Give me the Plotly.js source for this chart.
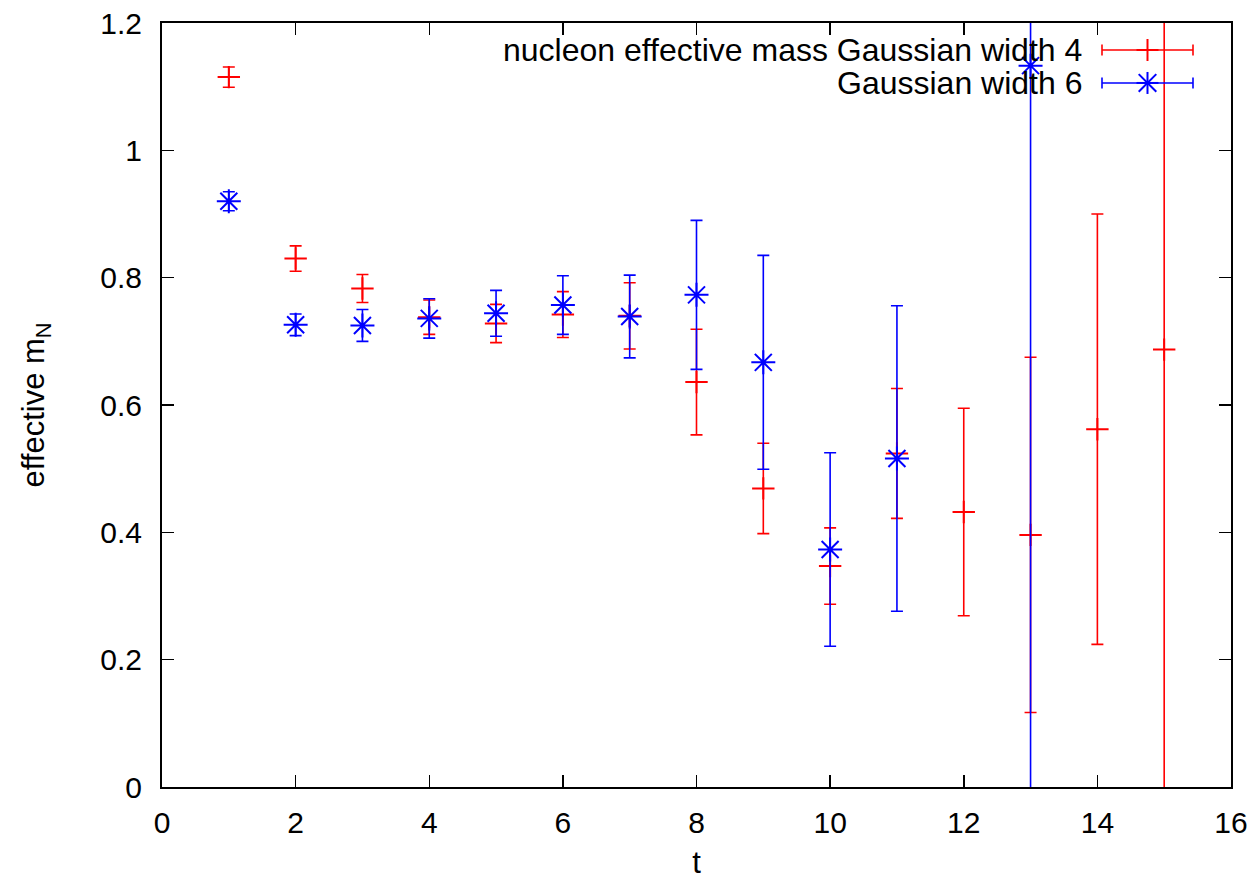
<!DOCTYPE html>
<html>
<head>
<meta charset="utf-8">
<script src="https://cdn.plot.ly/plotly-3.0.1.min.js"></script>
<style>html,body{margin:0;padding:0;background:#fff;}#chart{width:1258px;height:880px;}</style>
</head>
<body>
<div id="chart"></div>
<script>
// Data
const t4   = [1, 2, 3, 4, 5, 6, 7, 8, 9, 10, 11, 12, 13, 14, 15];
const m4   = [1.115, 0.830, 0.783, 0.738, 0.728, 0.742, 0.740, 0.636, 0.469, 0.347, 0.524, 0.432, 0.396, 0.562, 0.687];
const err4 = [0.016, 0.020, 0.022, 0.027, 0.030, 0.036, 0.052, 0.083, 0.071, 0.060, 0.102, 0.163, 0.279, 0.338, 0.75];

const t6   = [1, 2, 3, 4, 5, 6, 7, 8, 9, 10, 11, 13];
const m6   = [0.920, 0.726, 0.725, 0.736, 0.744, 0.757, 0.739, 0.773, 0.667, 0.373, 0.516, 1.133];
const err6 = [0.015, 0.017, 0.025, 0.031, 0.036, 0.046, 0.065, 0.117, 0.168, 0.152, 0.240, 1.2];

const label4 = "nucleon effective mass Gaussian width 4";
const label6 = "Gaussian width 6";
const xTicks = [0, 2, 4, 6, 8, 10, 12, 14, 16];
const yTicks = [0, 0.2, 0.4, 0.6, 0.8, 1, 1.2];

const RED = "#ff0000", BLUE = "#0000ff";
const FONT = "Liberation Sans, Arial, Helvetica, sans-serif";

const traces = [
  {
    x: t4, y: m4, type: "scatter", mode: "markers", name: label4, showlegend: false,
    marker: {symbol: "cross-thin-open", size: 16, color: RED, line: {color: RED, width: 2}},
    error_y: {type: "data", array: err4, visible: true, color: RED, thickness: 1.6, width: 6}
  },
  {
    x: t6, y: m6, type: "scatter", mode: "markers", name: label6, showlegend: false,
    marker: {symbol: "asterisk-open", size: 20, color: BLUE, line: {color: BLUE, width: 2}},
    error_y: {type: "data", array: err6, visible: true, color: BLUE, thickness: 1.6, width: 6}
  }
];

// legend drawn gnuplot-style: text then sample
const L = 162, R = 1231, T = 23, B = 787.5;
const px = v => (v - L) / (R - L);
const py = v => (B - v) / (B - T);
const rowY = [50, 83];
const sx0 = 1102, sx1 = 1193, sc = 1147.5, cap = 5.5, ms = 11;
const shapes = [];
const colors = [RED, BLUE];
rowY.forEach((ry, i) => {
  const c = colors[i];
  const ln = {color: c, width: 1.6};
  shapes.push({type: "line", xref: "paper", yref: "paper", x0: px(sx0), x1: px(sx1), y0: py(ry), y1: py(ry), line: ln});
  shapes.push({type: "line", xref: "paper", yref: "paper", x0: px(sx0), x1: px(sx0), y0: py(ry - cap), y1: py(ry + cap), line: ln});
  shapes.push({type: "line", xref: "paper", yref: "paper", x0: px(sx1), x1: px(sx1), y0: py(ry - cap), y1: py(ry + cap), line: ln});
  const ml = {color: c, width: 2};
  shapes.push({type: "line", xref: "paper", yref: "paper", x0: px(sc - ms), x1: px(sc + ms), y0: py(ry), y1: py(ry), line: ml});
  shapes.push({type: "line", xref: "paper", yref: "paper", x0: px(sc), x1: px(sc), y0: py(ry - ms), y1: py(ry + ms), line: ml});
  if (i === 1) {
    const d = ms * 0.8;
    shapes.push({type: "line", xref: "paper", yref: "paper", x0: px(sc - d), x1: px(sc + d), y0: py(ry - d), y1: py(ry + d), line: ml});
    shapes.push({type: "line", xref: "paper", yref: "paper", x0: px(sc - d), x1: px(sc + d), y0: py(ry + d), y1: py(ry - d), line: ml});
  }
});

const annotations = [
  {xref: "paper", yref: "paper", x: px(1084), y: py(rowY[0]), xanchor: "right", yanchor: "middle",
   text: label4, showarrow: false, font: {family: FONT, size: 32, color: "#000"}},
  {xref: "paper", yref: "paper", x: px(1084), y: py(rowY[1]), xanchor: "right", yanchor: "middle",
   text: label6, showarrow: false, font: {family: FONT, size: 32, color: "#000"}}
];

const axisCommon = {
  showgrid: false, zeroline: false, showline: true, mirror: "ticks",
  linecolor: "#000", linewidth: 2, ticks: "inside", ticklen: 12, tickwidth: 1.5, tickcolor: "#000",
  tickfont: {family: FONT, size: 30, color: "#000"}
};

const layout = {
  width: 1258, height: 880,
  margin: {l: L, r: 1258 - R, t: T, b: 880 - B},
  paper_bgcolor: "#fff", plot_bgcolor: "#fff",
  showlegend: false,
  font: {family: FONT, color: "#000"},
  xaxis: Object.assign({}, axisCommon, {
    range: [0, 16], tickvals: xTicks, ticktext: xTicks.map(String),
    ticklabelstandoff: 8,
    title: {text: "t", font: {family: FONT, size: 31, color: "#000"}, standoff: 14}
  }),
  yaxis: Object.assign({}, axisCommon, {
    range: [0, 1.2], tickvals: yTicks, ticktext: yTicks.map(String),
    ticklabelstandoff: 12,
    title: {text: "effective m<sub>N</sub>", font: {family: FONT, size: 31, color: "#000"}, standoff: 46}
  }),
  shapes: shapes,
  annotations: annotations
};

Plotly.newPlot("chart", traces, layout, {staticPlot: true, displayModeBar: false});
</script>
</body>
</html>
